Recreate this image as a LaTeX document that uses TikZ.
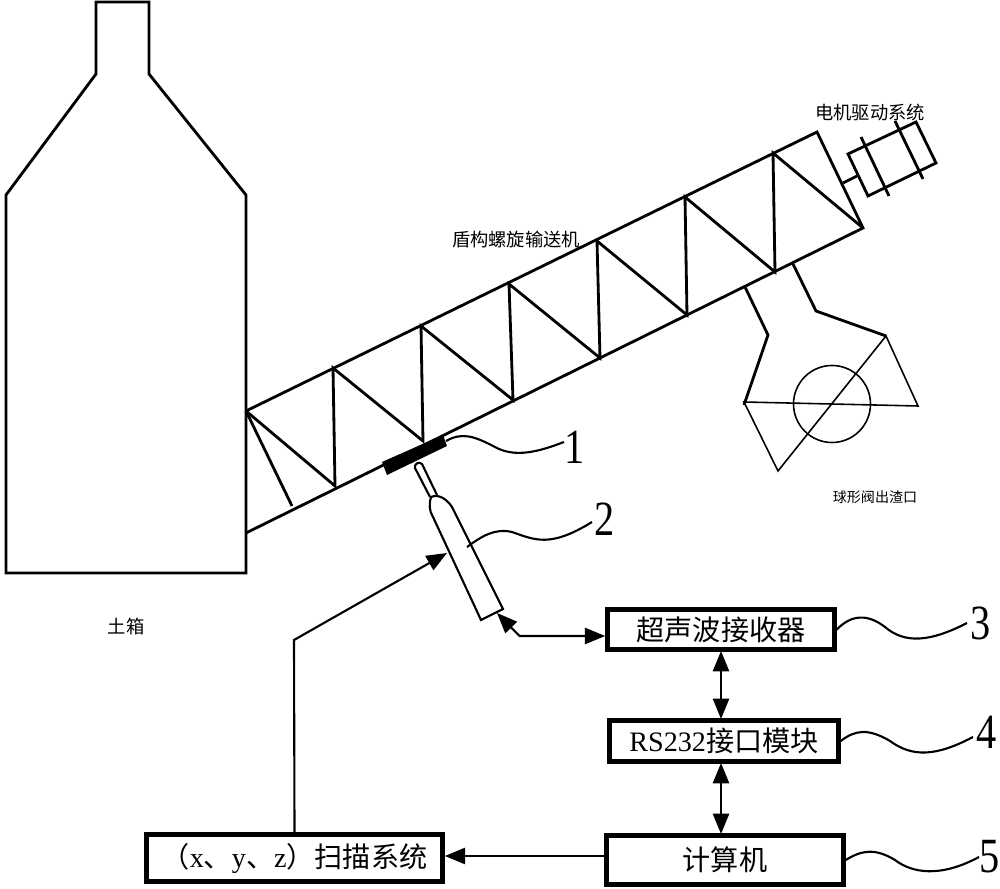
\documentclass[tikz,border=0pt]{standalone}
\usepackage{fontspec}
\setmainfont{Liberation Serif}
\newfontfamily\cjk{Noto Sans CJK SC}
\newfontfamily\numfont[FakeStretch=0.82]{Liberation Serif}
\usetikzlibrary{arrows.meta, positioning, calc}
\tikzset{
  wall/.style={line width=0.8pt, line join=miter},
  thinwall/.style={line width=0.45pt},
  leader/.style={line width=0.6pt},
  blockbox/.style={draw, line width=1.25pt, inner sep=0pt, align=center, font=\fontsize{8}{9}\selectfont\cjk},
  numlabel/.style={inner sep=0pt, font=\fontsize{14}{15}\selectfont\numfont},
  smalltext/.style={inner sep=0pt, font=\fontsize{5.2}{6}\selectfont\cjk},
  tinytext/.style={inner sep=0pt, font=\fontsize{4}{5}\selectfont\cjk},
  signal/.style={line width=0.6pt, -{Triangle[length=5.8pt,width=4.6pt]}},
  duplex/.style={line width=0.6pt, {Triangle[length=5.8pt,width=4.6pt]}-{Triangle[length=5.8pt,width=4.6pt]}}
}
\begin{document}
\begin{tikzpicture}[x=0.01cm, y=-0.01cm]
  \useasboundingbox (0,0) rectangle (1000,889);
  % soil chamber
  \draw[wall] (6,195) -- (96,74) -- (96,2) -- (149,2) -- (149,74) -- (246,195) -- (246,573) -- (6,573) -- cycle;
  \node[smalltext] (chamber) at (126,627) {土箱};

  % screw conveyor casing
  \coordinate (casetail) at (246,411);
  \coordinate (casehead) at (817,132);
  \coordinate (caseend) at (863,228);
  \coordinate (casefoot) at (246,533);
  \draw[wall] (casetail) -- (casehead) -- (caseend) -- (casefoot);
  \node[smalltext] (conveyor) at (516,240) {盾构螺旋输送机};

  % screw blades, one zigzag per pitch
  \draw[wall] (casetail) -- (292,506);
  \draw[wall] (casetail) -- (335,486) -- (333,368) -- (423,441) -- (421,326) -- (513,400) -- (509,284)
    -- (600,358) -- (597,241) -- (687,315) -- (685,197) -- (775,272) -- (773,153) -- (caseend);

  % motor
  \draw[wall] (848,154) -- (916,122) -- (936,163) -- (868,196) -- cycle;
  \draw[wall] (861,137) -- (889,196);
  \draw[wall] (895,121) -- (923,179);
  \draw[wall] (843,183) -- (857,176);
  \node[smalltext] (motor) at (870,113) {电机驱动系统};

  % ball valve outlet
  \draw[wall] (745,287) -- (768,335) -- (744,405);
  \draw[wall] (793,264) -- (816,311) -- (886,336);
  \draw[thinwall] (744,402) -- (918,406) -- (886,336) -- (778,471) -- cycle;
  \draw[thinwall] (832,404) circle (38.5);
  \node[tinytext] (outlet) at (875,497) {球形阀出渣口};

  % sensor patch and ultrasonic probe
  \fill (382,462) -- (443,435) -- (447,446) -- (387,475) -- cycle;
  \draw[leader] (430,497) -- (415,468) .. controls (414,464) and (419,461) .. (422,464) -- (437,495);
  \draw[leader] (503,609) -- (452,507) .. controls (446,498) and (438,494) .. (431,497)
    .. controls (429,503) and (429,511) .. (433,517) -- (481,620) -- cycle;
  \coordinate (probein) at (447,553);
  \coordinate (probeport) at (497,613);
  \coordinate (probemid) at (467,547);
  \coordinate (patchend) at (446,441);

  % signal chain
  \node[blockbox, minimum width=227pt*0.2845, minimum height=40pt*0.2845] (receiver) at (721,629.5) {超声波接收器};
  \node[blockbox, minimum width=229pt*0.2845, minimum height=41pt*0.2845] (rsmodule) at (724,741) {{\fontspec{Liberation Serif}RS232}接口模块};
  \node[blockbox, minimum width=237pt*0.2845, minimum height=49pt*0.2845] (computer) at (725,860) {计算机};
  \node[blockbox, minimum width=296pt*0.2845, minimum height=47pt*0.2845] (scanner) at (294.5,858) {（{\fontspec{Liberation Serif}x}、{\fontspec{Liberation Serif}y}、{\fontspec{Liberation Serif}z}）扫描系统};

  \draw[duplex] (721,651) -- (721,719);
  \draw[duplex] (721,763) -- (721,834);
  \draw[signal] (computer.west |- 0,856) -- (scanner.east |- 0,856);
  \draw[duplex] (probeport) -- (519.5,636) -- (receiver.west |- 0,636);
  \draw[signal] (scanner.north) -- (294,640) -- (probein);

  % numbered callouts
  \node[numlabel] (num1) at (575,447) {1};
  \node[numlabel] (num2) at (605,519) {2};
  \node[numlabel] (num3) at (981,623) {3};
  \node[numlabel] (num4) at (987,732) {4};
  \node[numlabel] (num5) at (990,857) {5};
  \draw[leader] (patchend) .. controls (462,432) and (474,436) .. (495,447) .. controls (515,458) and (538,452) .. (564,442);
  \draw[leader] (probemid) .. controls (482,536) and (495,528) .. (512,532) .. controls (535,540) and (550,548) .. (592,522);
  \draw[leader] (receiver.east) .. controls (852,614) and (868,614) .. (885,627) .. controls (905,644) and (930,642) .. (967,623);
  \draw[leader] (rsmodule.east) .. controls (855,730) and (868,728) .. (890,741) .. controls (912,757) and (935,757) .. (973,737);
  \draw[leader] (computer.east) .. controls (862,850) and (875,848) .. (895,860) .. controls (912,873) and (940,878) .. (979,857);
\end{tikzpicture}
\end{document}
